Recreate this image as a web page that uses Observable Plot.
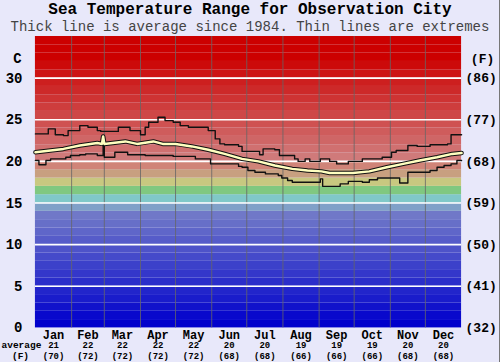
<!DOCTYPE html>
<html>
<head>
<meta charset="utf-8">
<script src="https://cdn.jsdelivr.net/npm/d3@7"></script>
<script src="https://cdn.jsdelivr.net/npm/@observablehq/plot@0.6"></script>
<style>
  html, body { margin: 0; padding: 0; background: #e8e8fa; }
  #wrap { position: relative; width: 500px; height: 362px; background: #e8e8fa; box-sizing: border-box; border-right: 1px solid #777; overflow: hidden; font-family: "Liberation Mono", "DejaVu Sans Mono", monospace; }
  #title { position: absolute; top: 1px; left: 0; width: 500px; text-align: center; font-weight: bold; font-size: 16px; line-height: 18px; color: #000; }
  #sub { position: absolute; top: 20px; left: 0; width: 500px; text-align: center; font-size: 14px; line-height: 15px; color: #444; white-space: nowrap; }
  #chart { position: absolute; top: 34px; left: 0; }
</style>
</head>
<body>
<div id="wrap">
  <div id="title">Sea Temperature Range for Observation City</div>
  <div id="sub">Thick line is average since 1984. Thin lines are extremes</div>
  <div id="chart"></div>
</div>
<script>
// ---- data ----
const months = ["Jan","Feb","Mar","Apr","May","Jun","Jul","Aug","Sep","Oct","Nov","Dec"];
const monthStart = [0,31,59,90,120,151,181,212,243,273,304,334,365];
const monthAvgC = [21,22,22,22,22,20,20,19,19,19,20,20];
const monthAvgF = [70,72,72,72,72,68,68,66,66,66,68,68];
const cTicks = [0,5,10,15,20,25,30];
const fTicks = [32,41,50,59,68,77,86];

const maxDay = [0,11,17,24,28,38,45,53,56,71,81,90,94,97,105,111,118,124,131,148,154,158,162,174,177,192,195,205,209,222,225,231,235,244,252,258,268,280,297,305,309,319,327,338,353,356,365];
const maxT   = [23.3,23.9,23.2,23.1,23.7,24.3,24.1,23.7,23.6,24.1,23.7,23.2,24.1,24.7,25.3,24.9,24.7,24.3,24.1,23.7,22.7,22.1,22.0,21.8,21.2,20.8,21.5,21.4,20.7,20.3,20.0,20.3,20.0,20.3,20.0,19.7,20.0,20.3,20.5,21.1,21.3,21.9,21.8,22.0,22.1,23.2,23.2];

const minDay = [0,3,9,13,26,30,38,43,53,58,59,68,79,94,118,137,150,174,177,182,188,197,208,211,216,220,244,246,261,268,280,286,293,312,319,338,344,350,356,361,365];
const minT   = [20.1,19.6,20.1,20.3,20.5,20.7,20.8,20.9,20.7,23.0,20.5,21.1,20.8,20.7,20.6,20.3,19.7,19.4,19.3,18.9,18.7,18.5,18.3,18.0,17.7,17.5,17.9,17.0,17.3,17.6,17.5,17.8,18.0,17.4,18.7,18.9,19.3,19.5,19.7,20.1,20.1];

const avgDay = [0,24,38,53,57,58,59,77,87,101,109,120,134,148,162,177,191,205,220,233,245,252,272,286,301,315,329,344,357,365];
const avgT   = [21.1,21.5,21.9,22.2,22.1,23.0,22.1,22.4,22.1,22.4,22.1,22.1,21.8,21.4,20.9,20.3,20.0,19.5,19.1,18.9,18.8,18.6,18.6,18.8,19.3,19.7,20.1,20.5,20.9,21.0];

// ---- styles ----
const bandFixed = {14:"#80a0c8",15:"#80c8c8",16:"#80c880",17:"#c8c880",18:"#c8a080",19:"#d08478"};
function bandColor(t) {
  if (bandFixed[t]) return bandFixed[t];
  if (t <= 13) return d3.interpolateRgb("#0000cc", "#7078c8")(t / 13);
  if (t >= 32) return "#cc0000";
  return d3.interpolateRgb("#d07a7a", "#cc0000")((t - 20) / 12);
}
const bands = d3.range(0, 35);

const maxData = maxDay.map((d, i) => ({day: d, t: maxT[i]}));
const minData = minDay.map((d, i) => ({day: d, t: minT[i]}));
const avgData = avgDay.map((d, i) => ({day: d, t: avgT[i]}));
const monthRows = months.map((m, i) => ({m, mid: (monthStart[i] + monthStart[i+1]) / 2, c: monthAvgC[i], f: monthAvgF[i]}));

const chart = Plot.plot({
  width: 500,
  height: 328,
  marginLeft: 35,
  marginRight: 38,
  marginTop: 2,
  marginBottom: 34,
  style: {fontFamily: "Liberation Mono, DejaVu Sans Mono, monospace", fontSize: "14px", background: "transparent", color: "#000", fontWeight: "bold"},
  x: {domain: [0, 365], axis: null},
  y: {domain: [0, 35], ticks: cTicks, tickSize: 0, tickPadding: 13, label: null},
  color: {type: "identity"},
  marks: [
    Plot.rect(bands, {x1: 0, x2: 365, y1: d => d, y2: d => d + 1, fill: d => bandColor(d)}),
    Plot.ruleX(monthStart.slice(1, 12), {stroke: "#666", strokeOpacity: 0.8, strokeWidth: 1}),
    Plot.ruleY(cTicks.slice(1), {stroke: "white", strokeWidth: 1.6}),
    Plot.line(maxData, {x: "day", y: "t", curve: "step-after", stroke: "#111", strokeWidth: 1.4}),
    Plot.line(minData, {x: "day", y: "t", curve: "step-after", stroke: "#111", strokeWidth: 1.4}),
    Plot.line(avgData, {x: "day", y: "t", stroke: "#111", strokeWidth: 4.5}),
    Plot.line(avgData, {x: "day", y: "t", stroke: "#ffffc0", strokeWidth: 2.5}),
    Plot.text(fTicks, {y: (d, i) => cTicks[i], text: d => `(${d})`, frameAnchor: "right", textAnchor: "start", lineAnchor: "middle", dx: 4, fontSize: 13}),
    Plot.text(["C"], {frameAnchor: "top-left", lineAnchor: "middle", textAnchor: "middle", dx: -18, dy: 22, fontSize: 14}),
    Plot.text(["(F)"], {frameAnchor: "top-right", lineAnchor: "middle", textAnchor: "middle", dx: 21, dy: 22, fontSize: 13}),
    Plot.text(monthRows, {x: "mid", text: "m", frameAnchor: "bottom", lineAnchor: "middle", dy: 7, fontSize: 12}),
    Plot.text(monthRows, {x: "mid", text: "c", frameAnchor: "bottom", lineAnchor: "middle", dy: 17.5, fontSize: 9}),
    Plot.text(monthRows, {x: "mid", text: d => `(${d.f})`, frameAnchor: "bottom", lineAnchor: "middle", dy: 28, fontSize: 9}),
    Plot.text(["average"], {frameAnchor: "bottom-left", lineAnchor: "middle", textAnchor: "middle", dx: -14, dy: 17.5, fontSize: 9.5}),
    Plot.text(["(F)"], {frameAnchor: "bottom-left", lineAnchor: "middle", textAnchor: "middle", dx: -15, dy: 28, fontSize: 9.5})
  ]
});
document.getElementById("chart").appendChild(chart);
</script>
</body>
</html>
